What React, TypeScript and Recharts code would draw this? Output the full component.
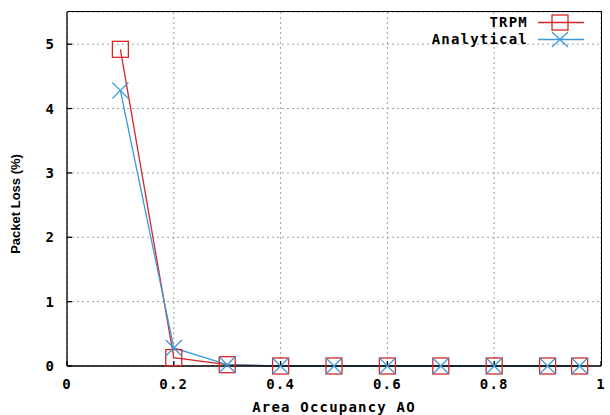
import React from "react";
import { LineChart, Line, XAxis, YAxis, CartesianGrid, Label } from "recharts";

const occupancy = [0.1, 0.2, 0.3, 0.4, 0.5, 0.6, 0.7, 0.8, 0.9, 0.96];
const trpm = [4.92, 0.13, 0.02, 0, 0, 0, 0, 0, 0, 0];
const analytical = [4.28, 0.28, 0.02, 0, 0, 0, 0, 0, 0, 0];
const xTicks = [0, 0.2, 0.4, 0.6, 0.8, 1];
const yTicks = [0, 1, 2, 3, 4, 5];

const data = occupancy.map((x, i) => ({ x, trpm: trpm[i], analytical: analytical[i] }));

const W = 610;
const H = 415;
const TOP = 12;
const RIGHT = 9;
const Y_AXIS_W = 67;
const X_AXIS_H = 49;

const RED = "#d62728";
const BLUE = "#3a9ad9";
const mono = "'DejaVu Sans Mono', monospace";
const monoText = { fill: "#000", fontFamily: mono, fontWeight: "bold" as const, fontSize: 14, letterSpacing: 1.2 };

const SquareDot = (props: any) => {
  const { cx, cy } = props;
  if (cx == null || cy == null) return null;
  return <rect x={cx - 8} y={cy - 8} width={16} height={16} fill="none" stroke={RED} strokeWidth={1.3} />;
};

const CrossDot = (props: any) => {
  const { cx, cy } = props;
  if (cx == null || cy == null) return null;
  return (
    <g stroke={BLUE} strokeWidth={1.2}>
      <line x1={cx - 8} y1={cy - 8} x2={cx + 8} y2={cy + 8} />
      <line x1={cx - 8} y1={cy + 8} x2={cx + 8} y2={cy - 8} />
    </g>
  );
};

// gnuplot-style key in the top right corner
const LegendBox = () => (
  <div
    style={{
      position: "absolute",
      top: 14,
      right: 20,
      fontFamily: mono,
      fontWeight: "bold",
      fontSize: 14,
      letterSpacing: 1.2,
      lineHeight: "17px",
      color: "#000",
    }}
  >
    {[
      { name: "TRPM", color: RED, kind: "sq" },
      { name: "Analytical", color: BLUE, kind: "x" },
    ].map((r) => (
      <div key={r.name} style={{ display: "flex", justifyContent: "flex-end", alignItems: "center", height: 17 }}>
        <span>{r.name}</span>
        <svg width={56} height={17} style={{ marginLeft: 6 }}>
          <line x1={4} y1={8.5} x2={50} y2={8.5} stroke={r.color} strokeWidth={1.3} />
          {r.kind === "sq" ? (
            <rect x={18} y={1} width={16} height={15} fill="none" stroke={r.color} strokeWidth={1.3} />
          ) : (
            <g stroke={r.color} strokeWidth={1.2}>
              <line x1={18} y1={1} x2={34} y2={16} />
              <line x1={18} y1={16} x2={34} y2={1} />
            </g>
          )}
        </svg>
      </div>
    ))}
  </div>
);

export default function App() {
  return (
    <div style={{ position: "absolute", left: 0, top: 0, width: W, height: H, background: "#fff" }}>
      <LineChart width={W} height={H} data={data} margin={{ top: TOP, right: RIGHT, bottom: 0, left: 0 }}>
        <CartesianGrid stroke="#a0a0a0" strokeDasharray="2 3" />
        <XAxis
          type="number"
          dataKey="x"
          domain={[0, 1]}
          ticks={xTicks}
          tickFormatter={(v: number) => (v === 0 || v === 1 ? String(v) : v.toFixed(1))}
          height={X_AXIS_H}
          stroke="#000"
          strokeWidth={1.3}
          tickSize={-5}
          tickMargin={18}
          tick={monoText}
        >
          <Label value="Area Occupancy AO" position="insideBottom" offset={3} style={monoText} />
        </XAxis>
        <YAxis
          type="number"
          domain={[0, 5.5]}
          ticks={yTicks}
          width={Y_AXIS_W}
          stroke="#000"
          strokeWidth={1.3}
          tickSize={-5}
          tickMargin={18}
          tick={{ ...monoText, letterSpacing: 0 }}
        >
          <Label
            value="Packet Loss (%)"
            angle={-90}
            position="insideLeft"
            offset={15}
            dy={15}
            style={{ fill: "#000", fontFamily: "'Liberation Sans', Arial, sans-serif", fontWeight: "bold", fontSize: 13, textAnchor: "middle" }}
          />
        </YAxis>
        <Line dataKey="trpm" stroke={RED} strokeWidth={1.3} dot={<SquareDot />} isAnimationActive={false} type="linear" />
        <Line
          dataKey="analytical"
          stroke={BLUE}
          strokeWidth={1.3}
          dot={<CrossDot />}
          isAnimationActive={false}
          type="linear"
        />
      </LineChart>
      {/* top and right edges of the plot frame */}
      <div
        style={{
          position: "absolute",
          left: Y_AXIS_W,
          top: TOP - 0.6,
          width: W - RIGHT - Y_AXIS_W + 0.6,
          height: H - X_AXIS_H - TOP + 0.6,
          borderTop: "1.3px solid #000",
          borderRight: "1.3px solid #000",
          boxSizing: "border-box",
          pointerEvents: "none",
        }}
      />
      <LegendBox />
    </div>
  );
}
